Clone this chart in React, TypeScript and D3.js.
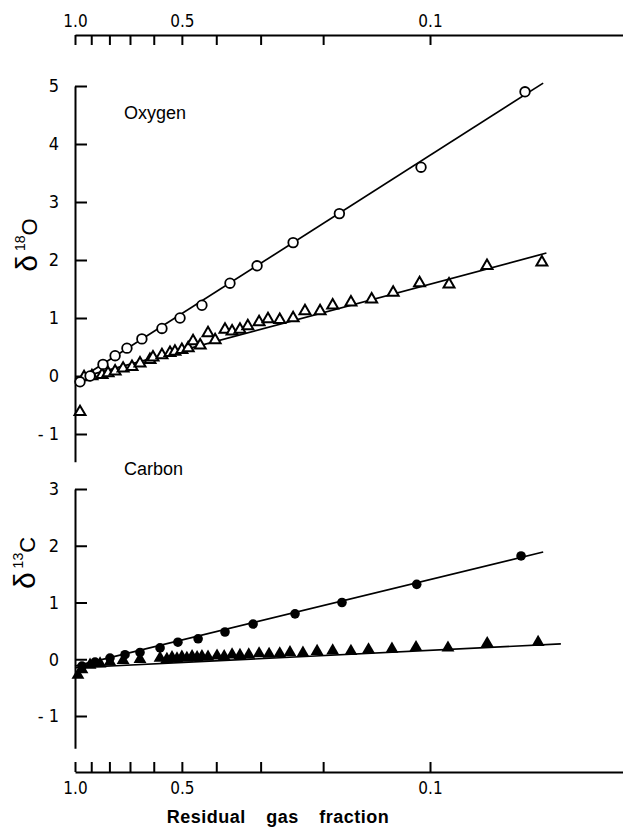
import React, { useEffect, useRef } from 'react';
import * as d3 from 'd3';

const W = 623;
const H = 828;

// residual gas fraction ticks (log axis, 1.0 on the left)
const fracTicks = [1, 0.9, 0.8, 0.7, 0.6, 0.5, 0.4, 0.3, 0.2, 0.1];
const fracLabels = [1, 0.5, 0.1];
const oxTicks = [-1, 0, 1, 2, 3, 4, 5];
const cTicks = [-1, 0, 1, 2, 3];

// Oxygen, open circles
const oxCircleF = [0.968, 0.907, 0.834, 0.771, 0.714, 0.648, 0.569, 0.506, 0.439, 0.366, 0.307, 0.243, 0.18, 0.106, 0.054];
const oxCircleD = [-0.1, 0.0, 0.2, 0.35, 0.48, 0.64, 0.82, 1.0, 1.22, 1.6, 1.9, 2.3, 2.8, 3.6, 4.9];

// Oxygen, open triangles
const oxTriF = [0.968, 0.943, 0.896, 0.839, 0.807, 0.771, 0.732, 0.691, 0.656, 0.615, 0.603, 0.569, 0.54, 0.523, 0.5, 0.48, 0.465, 0.444, 0.422, 0.403, 0.378, 0.361, 0.343, 0.326, 0.303, 0.286, 0.265, 0.243, 0.225, 0.204, 0.188, 0.167, 0.146, 0.127, 0.107, 0.0884, 0.0691, 0.0484];
const oxTriD = [-0.62, -0.02, 0.0, 0.02, 0.05, 0.08, 0.13, 0.16, 0.22, 0.28, 0.32, 0.36, 0.4, 0.42, 0.45, 0.48, 0.6, 0.53, 0.74, 0.62, 0.8, 0.77, 0.8, 0.86, 0.93, 0.98, 0.97, 1.0, 1.12, 1.12, 1.22, 1.27, 1.32, 1.44, 1.6, 1.58, 1.9, 1.96];

// Carbon, filled circles
const cCircleF = [0.956, 0.878, 0.797, 0.723, 0.656, 0.576, 0.513, 0.45, 0.378, 0.315, 0.24, 0.177, 0.109, 0.0554];
const cCircleD = [-0.12, -0.05, 0.02, 0.08, 0.12, 0.2, 0.3, 0.36, 0.48, 0.62, 0.8, 1.0, 1.32, 1.82];

// Carbon, filled triangles
const cTriF = [0.981, 0.956, 0.907, 0.85, 0.797, 0.732, 0.656, 0.576, 0.551, 0.533, 0.516, 0.5, 0.484, 0.468, 0.453, 0.439, 0.422, 0.398, 0.38, 0.361, 0.343, 0.324, 0.303, 0.284, 0.265, 0.248, 0.228, 0.208, 0.188, 0.167, 0.149, 0.128, 0.1095, 0.089, 0.069, 0.0496];
const cTriD = [-0.28, -0.18, -0.1, -0.08, -0.05, -0.02, 0.0, 0.02, 0.0, 0.03, 0.01, 0.04, 0.02, 0.05, 0.03, 0.05, 0.04, 0.06, 0.05, 0.08, 0.07, 0.08, 0.1, 0.09, 0.1, 0.12, 0.11, 0.14, 0.15, 0.14, 0.17, 0.18, 0.21, 0.2, 0.28, 0.3];

// fitted lines: [fraction, delta] at both ends
const oxCircleFit = [[1, -0.1], [0.048, 5.05]];
const oxTriFit = [[1, -0.05], [0.047, 2.12]];
const cCircleFit = [[1, -0.12], [0.048, 1.89]];
const cTriFit = [[1, -0.15], [0.0428, 0.27]];

const tickFont = '"Liberation Sans Narrow", "DejaVu Sans Condensed", "Liberation Sans", sans-serif';
const textFont = '"Liberation Sans", Arial, sans-serif';

export default function App() {
  const ref = useRef<SVGSVGElement>(null);

  useEffect(() => {
    const svg = d3.select(ref.current);
    svg.selectAll('*').remove();

    const x = d3.scaleLog().domain([1, 0.0286]).range([75, W]);
    const yO = d3.scaleLinear().domain([-1, 5]).range([434, 86]);
    const yC = d3.scaleLinear().domain([-1, 3]).range([716, 489]);

    const fmt = (d: any) => (fracLabels.includes(d) ? d3.format('.1f')(d) : '');
    const yFmt = (d: any) => (d < 0 ? '- ' + Math.abs(d) : String(d));

    const styleAxis = (g: any, size: number) => {
      g.attr('font-family', tickFont).attr('font-size', size);
      g.selectAll('path, line').attr('stroke', '#000').attr('stroke-width', 2);
      g.selectAll('text').attr('fill', '#000');
    };

    // top axis
    const top = svg.append('g').attr('transform', 'translate(0,35)')
      .call(d3.axisTop(x).tickValues(fracTicks).tickSize(-10).tickSizeOuter(0).tickPadding(8).tickFormat(fmt));
    styleAxis(top, 17);

    // bottom axis
    const bot = svg.append('g').attr('transform', 'translate(0,772)')
      .call(d3.axisBottom(x).tickValues(fracTicks).tickSize(-10).tickSizeOuter(0).tickPadding(10).tickFormat(fmt));
    styleAxis(bot, 17);

    // oxygen y axis (line runs a bit below -1)
    const yOAxis = yO.copy().domain([-1.48, 5]).range([yO(-1.48), yO(5)]);
    const ga = svg.append('g').attr('transform', 'translate(75,0)')
      .call(d3.axisLeft(yOAxis).tickValues(oxTicks).tickSize(-12).tickSizeOuter(0).tickPadding(16).tickFormat(yFmt));
    styleAxis(ga, 18);

    const yCAxis = yC.copy().domain([-1.57, 3]).range([yC(-1.57), yC(3)]);
    const gc = svg.append('g').attr('transform', 'translate(75,0)')
      .call(d3.axisLeft(yCAxis).tickValues(cTicks).tickSize(-12).tickSizeOuter(0).tickPadding(16).tickFormat(yFmt));
    styleAxis(gc, 18);

    // fitted lines
    const drawFit = (fit: number[][], y: any) => {
      svg.append('path')
        .attr('d', d3.line<number[]>().x(d => x(d[0])).y(d => y(d[1]))(fit))
        .attr('fill', 'none').attr('stroke', '#000').attr('stroke-width', 1.7);
    };
    drawFit(oxCircleFit, yO);
    drawFit(oxTriFit, yO);
    drawFit(cCircleFit, yC);
    drawFit(cTriFit, yC);

    const tri = d3.symbol().type(d3.symbolTriangle);

    // open triangles
    svg.append('g').selectAll('path').data(oxTriF).enter().append('path')
      .attr('d', tri.size(52)())
      .attr('transform', (d, i) => `translate(${x(d)},${yO(oxTriD[i])})`)
      .attr('fill', '#fff').attr('stroke', '#000').attr('stroke-width', 2);

    // open circles
    svg.append('g').selectAll('circle').data(oxCircleF).enter().append('circle')
      .attr('cx', d => x(d)).attr('cy', (d, i) => yO(oxCircleD[i])).attr('r', 4.8)
      .attr('fill', '#fff').attr('stroke', '#000').attr('stroke-width', 1.8);

    // filled triangles
    svg.append('g').selectAll('path').data(cTriF).enter().append('path')
      .attr('d', tri.size(72)())
      .attr('transform', (d, i) => `translate(${x(d)},${yC(cTriD[i])})`)
      .attr('fill', '#000');

    // filled circles
    svg.append('g').selectAll('circle').data(cCircleF).enter().append('circle')
      .attr('cx', d => x(d)).attr('cy', (d, i) => yC(cCircleD[i])).attr('r', 4.8)
      .attr('fill', '#000');

    // panel labels
    svg.append('text').attr('x', 124).attr('y', 119).text('Oxygen')
      .attr('font-family', textFont).attr('font-size', 18);
    svg.append('text').attr('x', 124).attr('y', 475).text('Carbon')
      .attr('font-family', textFont).attr('font-size', 18);

    // y titles, rotated
    const yTitle = (cx: number, cy: number, sup: string) => {
      const t = svg.append('text').attr('transform', `translate(${cx},${cy}) rotate(-90)`)
        .attr('text-anchor', 'middle').attr('font-family', textFont);
      t.append('tspan').attr('font-size', 30).text('δ');
      t.append('tspan').attr('font-size', 14).attr('dx', 4).attr('dy', -12).text(sup);
      t.append('tspan').attr('font-size', 22).attr('dy', 12).text(sup === '18' ? 'O' : 'C');
    };
    yTitle(37, 245, '18');
    yTitle(35, 563, '13');

    // x title
    svg.append('text').attr('x', 278).attr('y', 823).attr('text-anchor', 'middle')
      .attr('font-family', textFont).attr('font-weight', 'bold').attr('font-size', 18)
      .attr('word-spacing', 15).attr('letter-spacing', 0.5)
      .text('Residual gas fraction');
  }, []);

  return (
    <svg ref={ref} width={W} height={H} style={{ position: 'absolute', left: 0, top: 0, background: '#fff' }} />
  );
}
